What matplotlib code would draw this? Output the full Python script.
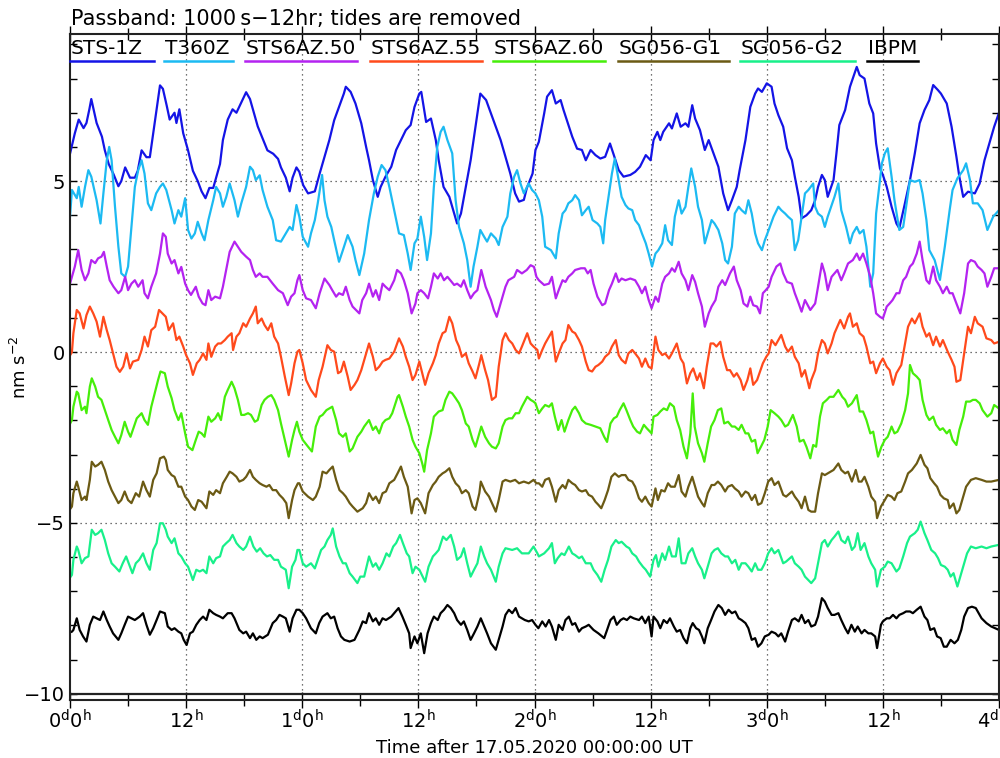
import numpy as np
import matplotlib
matplotlib.use("Agg")
import matplotlib.pyplot as plt
from matplotlib.lines import Line2D
from matplotlib.ticker import MultipleLocator

# Hours after 17.05.2020 00:00 UT and values in nm/s^2 (already offset per trace)

t_sts1z = [0.0, 0.5, 0.9, 1.4, 1.7, 2.0, 2.2, 2.75, 3.3, 3.6, 4.0, 4.5, 5.0, 5.3, 5.7, 6.2, 6.7, 7.0, 7.4, 7.9,
           8.25, 8.6, 8.9, 9.3, 9.6, 10.0, 10.3, 10.8, 11.0, 11.3, 11.7, 12.2, 12.7, 13.2, 13.6, 14.0, 14.4, 14.8,
           15.1, 15.5, 15.8, 16.3, 16.8, 17.2, 17.7, 18.2, 18.6, 18.9, 19.4, 19.9, 20.4, 21.0, 21.5, 21.8, 22.3,
           22.7, 23.0, 23.4, 23.7, 24.1, 24.6, 25.3, 25.8, 26.3, 26.8, 27.3, 27.8, 28.3, 28.5, 29.0, 29.5, 30.1,
           30.6, 30.9, 31.3, 31.8, 32.1, 32.6, 33.2, 33.7, 34.2, 34.7, 35.2, 35.6, 36.1, 36.3, 36.6, 36.8, 37.3,
           37.8, 38.1, 38.6, 39.2, 39.5, 40.0, 40.4, 40.9, 41.4, 41.9, 42.4, 43.0, 43.5, 44.0, 44.5, 45.0, 45.5,
           46.0, 46.4, 46.9, 47.2, 47.8, 48.1, 48.45, 49.0, 49.3, 49.8, 50.2, 50.7, 51.0, 51.4, 51.9, 52.4, 52.9,
           53.3, 53.8, 54.3, 54.8, 55.3, 55.8, 56.2, 56.7, 57.2, 57.9, 58.4, 58.9, 59.5, 60.0, 60.3, 60.7, 61.0,
           61.3, 61.9, 62.2, 62.7, 63.1, 63.6, 63.9, 64.3, 64.6, 65.1, 65.6, 66.0, 66.5, 67.0, 67.5, 68.0, 68.4,
           68.9, 69.2, 69.8, 70.3, 70.8, 71.1, 71.5, 72.0, 72.5, 72.8, 73.2, 73.7, 74.1, 74.6, 74.9, 75.3, 75.6,
           76.1, 76.6, 77.0, 77.3, 77.7, 78.0, 78.3, 78.9, 79.2, 79.5, 80.1, 80.6, 81.3, 81.6, 82.1, 82.6, 83.0,
           83.3, 83.7, 84.0, 84.4, 84.9, 85.4, 85.7, 86.2, 86.8, 87.3, 87.8, 88.3, 88.8, 89.2, 89.7, 90.0, 90.6,
           91.1, 91.6, 91.9, 92.3, 92.8, 93.5, 94.0, 94.5, 95.0, 95.5, 96.0]
v_sts1z = [5.8, 6.4, 6.8, 6.55, 6.7, 7.1, 7.4, 6.7, 6.3, 5.9, 5.5, 5.2, 4.85, 5.0, 5.4, 5.1, 5.1, 5.3, 5.9, 5.7,
           5.7, 6.4, 7.0, 7.8, 7.7, 7.2, 6.8, 7.0, 6.7, 7.1, 6.4, 5.9, 5.3, 5.0, 4.7, 4.5, 4.8, 4.8,
           5.1, 5.5, 6.2, 6.8, 7.1, 7.0, 7.3, 7.6, 7.4, 7.1, 6.6, 6.25, 5.9, 5.8, 5.65, 5.4, 5.1,
           4.7, 5.1, 5.4, 5.27, 4.88, 4.64, 4.7, 5.22, 5.71, 6.2, 6.78, 7.17, 7.56, 7.76, 7.61, 7.27, 6.69,
           6.0, 5.61, 5.03, 4.54, 4.83, 5.13, 5.42, 5.91, 6.2, 6.49, 6.64, 7.17, 7.56, 7.61, 7.08, 6.73, 6.83,
           6.2, 5.61, 4.83, 4.54, 4.25, 3.76, 4.05, 4.83, 5.61, 6.59, 7.56, 7.37, 6.98, 6.59, 6.2, 5.71, 5.22,
           4.64, 4.4, 4.45, 4.79, 5.22, 5.91, 6.15, 6.98, 7.47, 7.66, 7.27, 7.37, 7.08, 6.73, 6.3, 5.95, 5.91,
           5.61, 5.91, 5.76, 5.66, 5.71, 6.1, 5.76, 5.32, 5.13, 5.18, 5.27, 5.42, 5.76, 5.61, 6.2, 6.44, 6.2,
           6.44, 6.69, 6.54, 6.98, 6.59, 6.69, 6.59, 7.22, 6.83, 6.49, 5.91, 6.2, 5.81, 5.42, 4.64, 4.15, 4.44,
           4.83, 5.32, 6.2, 7.17, 7.56, 7.71, 7.61, 7.86, 7.76, 7.27, 6.93, 6.59, 5.96, 5.61, 5.13, 4.54, 3.91,
           4.0, 4.15, 4.44, 4.83, 5.18, 5.03, 4.54, 5.03, 5.81, 6.64, 7.08, 7.76, 8.34, 8.1, 8.0, 7.27, 6.98,
           6.1, 5.37, 5.18, 4.83, 4.25, 3.76, 3.62, 4.25, 5.03, 5.81, 6.69, 7.08, 7.37, 7.81, 7.66, 7.56, 7.27,
           6.59, 5.71, 5.13, 4.54, 4.69, 4.64, 4.93, 5.61, 6.1, 6.59, 7.0]

t_t360z = [0.0, 0.2, 0.7, 0.9, 1.2, 1.55, 1.9, 2.2, 2.75, 3.15, 3.45, 3.8, 4.05, 4.3, 4.65, 5.0, 5.3, 5.7, 6.0,
           6.35, 6.7, 7.05, 7.4, 7.7, 8.05, 8.4, 8.9, 9.3, 9.6, 9.95, 10.5, 10.8, 11.2, 11.5, 11.9, 12.2, 12.55,
           12.9, 13.2, 13.6, 13.9, 14.3, 14.8, 15.1, 15.5, 15.8, 16.15, 16.5, 17.0, 17.35, 17.7, 18.2, 18.6,
           18.9, 19.2, 19.6, 19.9, 20.4, 20.95, 21.3, 21.8, 22.3, 22.7, 23.0, 23.4, 23.7, 24.05, 24.6, 24.9,
           25.3, 25.6, 26.05, 26.3, 26.6, 27.0, 27.3, 27.8, 28.2, 28.7, 29.2, 29.5, 29.9, 30.4, 30.9, 31.4,
           31.8, 32.2, 32.6, 33.0, 33.5, 34.0, 34.5, 34.9, 35.2, 35.6, 35.9, 36.25, 36.6, 36.9, 37.3, 37.6,
           37.95, 38.3, 38.6, 39.0, 39.5, 39.85, 40.2, 40.7, 41.05, 41.4, 41.7, 42.1, 42.4, 42.8, 43.1, 43.5,
           44.0, 44.3, 44.7, 45.2, 45.5, 45.9, 46.2, 46.55, 46.9, 47.4, 47.75, 48.1, 48.45, 48.8, 49.1, 49.7,
           50.2, 50.5, 50.9, 51.2, 51.5, 51.9, 52.2, 52.6, 52.9, 53.3, 53.6, 54.0, 54.5, 54.8, 55.1, 55.3,
           55.7, 56.0, 56.3, 56.7, 57.0, 57.4, 57.7, 58.1, 58.4, 58.8, 59.1, 59.5, 59.8, 60.15, 60.5, 60.8,
           61.2, 61.5, 61.8, 62.2, 62.5, 62.9, 63.2, 63.6, 63.9, 64.2, 64.6, 64.9, 65.3, 65.6, 66.0, 66.3,
           66.6, 67.0, 67.4, 67.7, 68.0, 68.4, 68.7, 69.1, 69.4, 69.8, 70.1, 70.45, 70.8, 71.1, 71.5, 71.8,
           72.2, 72.7, 73.2, 73.5, 73.9, 74.2, 74.6, 74.9, 75.25, 75.6, 75.95, 76.3, 76.8, 77.0, 77.3, 77.7,
           78.0, 78.3, 79.0, 79.4, 79.7, 80.2, 80.6, 80.9, 81.3, 81.6, 82.0, 82.3, 82.7, 83.0, 83.3, 83.9,
           84.2, 84.5, 84.9, 85.2, 85.7, 86.1, 86.4, 86.8, 87.3, 87.8, 88.1, 88.5, 88.8, 89.35, 89.9, 90.4,
           90.9, 91.2, 91.7, 92.3, 92.6, 93.0, 93.3, 93.8, 94.3, 94.8, 95.4, 96.0]
v_t360z = [3.96, 4.74, 4.5, 4.83, 4.25, 4.83, 5.32, 5.13, 4.44, 3.76, 4.64, 5.61, 6.0, 5.61, 4.25, 3.08, 2.3, 2.2, 2.5,
           3.66, 4.83, 5.32, 5.61, 5.22, 4.35, 4.15, 4.64, 4.83, 4.93, 4.74, 4.15, 3.76, 4.15, 3.96, 4.5, 3.57, 3.32,
           3.47, 3.81, 3.47, 3.27, 3.86, 4.44, 4.83, 4.64, 4.25, 4.54, 4.93, 4.44, 3.96, 4.35, 4.83, 5.42,
           5.32, 5.03, 5.17, 4.74, 4.25, 3.86, 3.27, 3.23, 3.47, 3.66, 3.57, 4.3, 3.96, 3.37, 3.08, 3.47,
           3.86, 4.35, 5.18, 4.44, 3.96, 3.66, 3.27, 2.64, 2.98, 3.42, 3.08, 2.69, 2.25, 2.88, 3.86, 4.64,
           5.13, 5.47, 5.32, 4.83, 4.15, 3.47, 3.42, 2.88, 2.4, 3.18, 3.32, 3.96, 3.37, 2.69, 3.47, 4.83,
           6.0, 6.44, 6.59, 6.2, 5.81, 4.44, 3.66, 3.18, 2.69, 1.91, 2.5, 3.08, 3.57, 3.37, 3.23, 3.47,
           3.32, 3.13, 3.66, 3.96, 4.64, 5.13, 5.32, 4.93, 4.64, 4.93, 4.74, 4.64, 4.44, 3.96, 3.08, 2.98,
           2.74, 3.47, 4.05, 4.15, 4.35, 4.44, 4.59, 4.44, 4.0, 4.15, 4.25, 3.86, 3.76, 3.66, 3.18, 3.86,
           4.64, 5.22, 5.66, 5.03, 4.54, 4.3, 4.2, 4.15, 3.86, 3.71, 3.47, 3.18, 2.88, 2.5, 2.88, 2.98,
           3.18, 3.71, 3.27, 3.13, 3.96, 4.44, 4.05, 4.25, 4.83, 5.37, 4.83, 4.25, 3.86, 3.18, 3.57, 3.86,
           3.76, 3.57, 3.18, 2.69, 2.59, 3.08, 4.05, 4.25, 4.15, 4.05, 4.44, 4.05, 3.47, 3.18, 2.98, 3.27,
           3.57, 3.96, 4.25, 4.15, 4.05, 3.96, 3.86, 2.98, 3.27, 3.96, 4.64, 4.74, 4.93, 4.25, 4.05, 3.96,
           3.66, 3.96, 4.54, 4.93, 4.15, 3.66, 3.18, 3.47, 3.66, 3.47, 3.57, 3.08, 1.91, 2.3, 4.05, 5.52,
           5.81, 5.96, 5.13, 4.44, 3.57, 3.66, 4.25, 5.03, 4.98, 5.03, 4.64, 3.86, 2.98, 2.69, 2.11, 3.08,
           4.15, 4.74, 5.08, 5.32, 5.52, 5.03, 4.35, 4.35, 4.15, 3.57, 3.96, 4.15]

t_sts50 = [0.0, 0.5, 0.85, 1.2, 1.55, 1.9, 2.2, 2.6, 2.9, 3.25, 3.5, 3.8, 4.1, 4.5, 5.0, 5.3, 5.7, 6.0, 6.35, 6.7,
           7.05, 7.5, 7.7, 8.05, 8.4, 8.9, 9.3, 9.6, 9.9, 10.1, 10.5, 10.8, 11.2, 11.5, 11.9, 12.2, 12.5, 13.0,
           13.3, 13.7, 14.0, 14.3, 14.6, 15.0, 15.5, 15.8, 16.2, 16.5, 17.0, 17.35, 17.7, 18.2, 18.6, 18.9,
           19.2, 19.6, 19.9, 20.4, 20.95, 21.5, 22.0, 22.5, 22.85, 23.2, 23.5, 23.7, 24.05, 24.4, 24.9, 25.4,
           25.8, 26.3, 26.8, 27.1, 27.5, 27.8, 28.2, 28.5, 28.9, 29.2, 29.55, 29.9, 30.2, 30.6, 30.9, 31.3,
           31.6, 31.95, 32.3, 32.6, 33.0, 33.5, 33.8, 34.2, 34.5, 34.9, 35.3, 35.7, 35.9, 36.25, 36.6, 37.0,
           37.3, 37.6, 38.0, 38.3, 38.65, 39.0, 39.3, 39.7, 40.0, 40.4, 40.7, 41.05, 41.4, 41.75, 42.1, 42.5,
           42.95, 43.5, 43.8, 44.1, 44.3, 44.7, 45.0, 45.3, 45.9, 46.2, 46.7, 47.2, 47.6, 47.95, 48.2, 48.45,
           49.0, 49.5, 49.8, 50.2, 50.5, 50.9, 51.2, 51.5, 51.9, 52.2, 52.8, 53.2, 53.5, 53.8, 54.1, 54.5,
           55.0, 55.3, 55.7, 56.0, 56.4, 56.7, 57.0, 57.4, 57.9, 58.4, 58.8, 59.1, 59.45, 59.8, 60.1, 60.5,
           60.8, 61.2, 61.5, 61.9, 62.2, 62.5, 62.9, 63.2, 63.6, 63.9, 64.3, 64.6, 64.9, 65.3, 65.6, 66.0,
           66.3, 66.7, 67.0, 67.4, 67.7, 68.2, 68.6, 68.9, 69.3, 69.6, 70.0, 70.3, 70.6, 71.0, 71.3, 71.6,
           71.9, 72.2, 72.5, 73.0, 73.4, 73.7, 74.1, 74.6, 74.9, 75.3, 75.6, 75.95, 76.5, 77.0, 77.3, 77.7,
           78.0, 78.3, 78.7, 79.0, 79.3, 79.7, 80.0, 80.4, 80.9, 81.3, 81.6, 81.95, 82.3, 82.7, 83.0, 83.3,
           83.7, 84.0, 84.4, 84.7, 85.0, 85.4, 85.7, 86.1, 86.4, 86.8, 87.1, 87.5, 87.8, 88.1, 88.5, 88.8,
           89.2, 89.5, 89.9, 90.2, 90.6, 90.9, 91.2, 91.6, 92.0, 92.4, 92.8, 93.1, 93.5, 93.8, 94.2, 94.5,
           94.8, 95.2, 95.5, 96.0]
v_sts50 = [2.0, 2.5, 2.98, 2.4, 2.1, 2.3, 2.69, 2.6, 2.74, 2.79, 2.93, 2.5, 2.1, 1.91, 1.72, 1.81, 2.2, 1.81, 2.0, 2.1,
           1.91, 2.1, 1.72, 1.57, 1.91, 2.3, 2.88, 3.47, 3.37, 2.88, 2.59, 2.69, 2.3, 2.49, 2.0, 1.81, 1.67, 1.91,
           1.62, 1.42, 1.37, 1.81, 1.52, 1.62, 1.57, 1.91, 2.5, 2.93, 3.23, 3.08, 2.93, 2.79, 2.69, 2.4,
           2.2, 2.3, 2.2, 2.2, 2.0, 1.81, 1.72, 1.37, 1.62, 1.72, 2.1, 2.25, 1.81, 1.57, 1.52, 1.28,
           1.72, 2.15, 1.96, 1.81, 1.62, 1.72, 1.67, 1.91, 1.52, 1.33, 1.23, 1.13, 1.52, 1.72, 2.0, 1.62,
           1.81, 1.52, 2.0, 1.91, 1.81, 2.1, 2.4, 2.3, 2.1, 1.72, 1.13, 1.42, 1.72, 1.81, 1.72, 1.57,
           1.91, 2.3, 2.15, 2.3, 2.1, 2.2, 2.1, 1.96, 2.0, 1.91, 2.1, 1.81, 1.57, 1.72, 1.81, 2.4,
           1.91, 1.52, 1.23, 1.03, 1.23, 1.62, 1.91, 2.1, 2.2, 2.4, 2.3, 2.4, 2.54, 2.49, 2.2, 2.1,
           1.96, 2.0, 2.2, 1.57, 1.81, 2.1, 2.05, 2.2, 2.3, 2.4, 2.45, 2.45, 2.3, 2.4, 2.0, 1.62,
           1.37, 1.42, 1.81, 2.0, 2.3, 2.05, 2.15, 2.1, 2.15, 2.1, 1.91, 1.72, 1.91, 1.52, 1.28, 1.62,
           1.47, 2.0, 2.2, 2.3, 2.45, 2.35, 2.64, 2.3, 2.1, 1.81, 2.25, 2.05, 1.72, 1.33, 0.74, 1.13,
           1.33, 1.52, 1.91, 2.1, 1.96, 2.3, 2.5, 2.1, 1.81, 1.42, 1.33, 1.62, 1.37, 1.33, 1.13, 1.72,
           1.81, 1.91, 2.2, 2.5, 2.59, 2.3, 2.05, 2.0, 1.72, 1.42, 1.18, 1.52, 1.23, 1.42, 1.91, 2.59,
           2.3, 1.81, 2.2, 2.3, 2.4, 2.1, 2.3, 2.59, 2.69, 2.88, 2.69, 2.88, 2.59, 2.2, 1.72, 1.13,
           1.03, 0.98, 1.33, 1.42, 1.52, 1.72, 1.72, 2.1, 2.2, 2.5, 2.59, 2.88, 3.23, 2.69, 2.1, 2.0,
           2.5, 2.1, 1.91, 1.72, 1.91, 1.72, 1.72, 1.42, 1.13, 1.72, 2.59, 2.69, 2.64, 2.5, 2.4, 2.3,
           1.91, 2.2, 2.45, 2.45]

t_sts55 = [0.0, 0.2, 0.35, 0.7, 1.0, 1.4, 1.7, 2.05, 2.4, 2.75, 3.1, 3.45, 3.8, 4.1, 4.45, 4.8, 5.15, 5.5, 5.85,
           6.2, 6.5, 7.05, 7.4, 7.7, 8.05, 8.4, 8.8, 9.2, 9.55, 9.9, 10.2, 10.65, 11.0, 11.3, 11.7, 12.0, 12.4,
           12.7, 13.1, 13.4, 13.75, 14.1, 14.3, 14.6, 15.0, 15.3, 15.6, 16.0, 16.3, 16.7, 16.85, 17.2, 17.5,
           17.9, 18.2, 18.6, 18.9, 19.2, 19.4, 19.8, 20.1, 20.45, 20.8, 21.1, 21.5, 21.8, 22.2, 22.6, 22.85,
           23.2, 23.5, 23.7, 24.05, 24.4, 24.9, 25.4, 25.7, 26.1, 26.6, 26.95, 27.3, 27.7, 28.0, 28.3, 28.7,
           29.0, 29.4, 29.7, 30.1, 30.6, 30.9, 31.3, 31.6, 31.95, 32.3, 32.6, 33.0, 33.5, 34.0, 34.4, 34.7,
           35.05, 35.4, 35.7, 36.1, 36.4, 36.7, 37.05, 37.5, 37.8, 38.1, 38.5, 38.8, 39.2, 39.5, 39.9, 40.2,
           40.5, 40.9, 41.2, 41.6, 41.9, 42.3, 42.5, 42.9, 43.2, 43.6, 44.0, 44.3, 44.7, 45.0, 45.35, 45.7,
           46.05, 46.4, 46.7, 47.25, 47.6, 47.9, 48.3, 48.45, 48.8, 49.1, 49.5, 49.8, 50.0, 50.2, 50.5, 50.9,
           51.2, 51.5, 51.9, 52.2, 52.6, 52.9, 53.3, 53.6, 53.95, 54.3, 54.6, 55.0, 55.3, 55.7, 56.0, 56.4,
           56.7, 57.0, 57.4, 57.7, 58.1, 58.4, 58.8, 59.1, 59.45, 59.8, 60.1, 60.5, 60.8, 61.2, 61.5, 61.9,
           62.2, 62.7, 63.1, 63.4, 63.75, 64.1, 64.4, 64.8, 65.1, 65.5, 65.8, 66.2, 66.5, 66.8, 67.2, 67.5,
           67.9, 68.2, 68.6, 68.9, 69.3, 69.6, 70.0, 70.3, 70.6, 71.0, 71.3, 71.6, 71.95, 72.2, 72.5, 72.9,
           73.2, 73.5, 73.9, 74.2, 74.6, 74.9, 75.3, 75.6, 75.95, 76.4, 76.6, 77.0, 77.3, 77.7, 78.0, 78.3,
           78.7, 79.0, 79.6, 80.0, 80.4, 80.6, 80.9, 81.3, 81.6, 82.0, 82.3, 82.7, 83.0, 83.3, 83.7, 84.0,
           84.4, 84.7, 85.05, 85.4, 85.9, 86.3, 86.6, 87.0, 87.3, 87.8, 88.1, 88.5, 88.8, 89.2, 89.5, 89.9,
           90.2, 90.7, 91.1, 91.4, 91.6, 92.0, 92.4, 92.8, 93.1, 93.5, 93.8, 94.3, 94.7, 95.2, 95.5, 96.0]
v_sts55 = [-0.1, 0.0, 0.55, 1.23, 1.13, 0.69, 1.08, 1.33, 1.13, 0.89, 0.45, 1.03, 0.64, 0.35, -0.04, -0.43, -0.58, -0.43, -0.04,
           -0.48, -0.28, -0.23, 0.06, 0.45, 0.16, 0.64, 0.74, 1.23, 1.13, 1.03, 0.64, 0.84, 0.35, 0.45, 0.16, -0.09, -0.33,
           -0.67, -0.33, -0.23, -0.04, -0.23, 0.25, -0.14, 0.16, 0.25, 0.25, 0.35, 0.45, 0.55, 0.06, 0.45, 0.55,
           0.84, 0.74, 0.98, 1.13, 1.33, 0.84, 0.98, 0.79, 0.64, 0.84, 0.45, 0.25, -0.14, -0.72, -1.26, -0.92,
           -0.33, 0.01, 0.06, -0.33, -0.82, -1.11, -1.31, -0.82, -0.43, 0.2, 0.06, 0.01, -0.62, -0.57, -0.28, -0.72,
           -1.11, -0.96, -0.82, -0.53, -0.04, 0.25, -0.14, -0.53, -0.43, -0.28, -0.23, -0.19, 0.01, 0.4, 0.16, -0.14,
           -0.43, -0.82, -0.67, -0.28, -0.62, -0.96, -0.62, -0.33, -0.09, 0.25, 0.55, 0.6, 1.03, 0.84, 0.35, 0.16,
           -0.14, -0.04, -0.33, -0.57, -0.77, -0.33, -0.09, -0.53, -0.82, -1.4, -1.31, -0.43, 0.35, 0.55, 0.35, 0.25,
           0.06, -0.04, 0.16, 0.55, 0.25, 0.16, 0.06, -0.19, 0.06, 0.25, 0.45, 0.6, 0.16, -0.28, -0.04, 0.25,
           0.35, 0.79, 0.6, 0.55, 0.35, 0.16, -0.28, -0.53, -0.57, -0.43, -0.38, -0.28, -0.14, -0.04, 0.16, 0.35,
           -0.09, -0.23, -0.33, -0.04, 0.06, -0.04, -0.19, -0.43, -0.19, -0.43, -0.48, 0.45, 0.06, -0.09, -0.04, -0.19,
           -0.04, 0.25, -0.19, -0.33, -0.92, -0.62, -0.48, -0.82, -0.62, -1.06, -0.43, 0.25, 0.25, 0.16, 0.3, -0.14,
           -0.53, -0.53, -0.72, -0.62, -0.82, -1.11, -0.82, -0.48, -0.96, -0.82, -0.57, -0.33, -0.14, -0.04, 0.35, 0.2,
           0.35, 0.5, 0.16, 0.01, 0.16, -0.14, -0.33, -0.72, -0.53, -1.06, -0.82, -0.53, -0.04, 0.35, 0.25, -0.04,
           0.25, 0.55, 0.94, 0.69, 1.03, 1.13, 0.74, 0.84, 0.55, 0.45, 0.16, -0.33, -0.28, -0.62, -0.33, -0.19,
           -0.43, -0.53, -0.96, -0.62, -0.38, 0.25, 0.74, 0.98, 0.84, 1.13, 0.74, 0.45, 0.55, 0.2, 0.45, 0.16,
           0.35, 0.01, -0.23, -0.43, -0.87, -0.82, -0.04, 0.74, 0.55, 1.03, 0.84, 0.74, 0.4, 0.35, 0.25, 0.3]

t_sts60 = [0.0, 0.2, 0.35, 0.7, 0.85, 1.2, 1.55, 1.7, 2.05, 2.25, 2.6, 2.9, 3.25, 3.6, 3.95, 4.3, 4.65, 5.0, 5.3,
           5.65, 6.0, 6.25, 6.6, 6.9, 7.4, 7.7, 8.05, 8.4, 8.75, 9.1, 9.35, 9.8, 10.1, 10.5, 10.8, 11.2, 11.5,
           11.9, 12.2, 12.65, 13.0, 13.3, 13.6, 13.9, 14.3, 14.6, 15.0, 15.3, 15.6, 16.0, 16.3, 16.7, 17.0,
           17.35, 17.7, 18.0, 18.4, 18.7, 19.1, 19.4, 19.8, 20.1, 20.45, 20.8, 21.1, 21.5, 21.8, 22.2, 22.6,
           22.95, 23.2, 23.45, 23.7, 24.05, 24.6, 25.0, 25.4, 25.8, 26.1, 26.5, 26.8, 27.1, 27.5, 27.8, 28.2,
           28.5, 28.9, 29.2, 29.7, 30.1, 30.4, 30.9, 31.3, 31.6, 31.95, 32.3, 32.6, 33.0, 33.3, 33.85, 34.0,
           34.4, 34.7, 35.05, 35.4, 35.7, 36.1, 36.4, 36.6, 36.9, 37.3, 37.6, 38.1, 38.5, 38.8, 39.2, 39.5,
           39.85, 40.2, 40.5, 40.9, 41.2, 41.6, 41.9, 42.3, 42.5, 42.9, 43.3, 43.6, 44.0, 44.3, 44.7, 45.0,
           45.35, 45.7, 46.05, 46.4, 46.7, 47.25, 47.6, 47.9, 48.1, 48.45, 48.8, 49.1, 49.5, 49.8, 50.1, 50.45,
           50.8, 51.1, 51.5, 51.9, 52.2, 52.6, 52.9, 53.3, 53.8, 54.3, 54.8, 55.2, 55.5, 55.85, 56.2, 56.5,
           56.8, 57.2, 57.5, 57.9, 58.2, 58.6, 58.9, 59.3, 59.6, 60.1, 60.3, 60.7, 61.0, 61.35, 61.7, 62.0,
           62.4, 62.7, 63.05, 63.4, 63.75, 64.1, 64.35, 64.55, 64.9, 65.3, 65.55, 65.9, 66.25, 66.6, 66.95, 67.3,
           67.6, 68.0, 68.4, 68.7, 69.1, 69.4, 69.8, 70.1, 70.45, 70.8, 71.05, 71.4, 71.75, 72.1, 72.4, 72.8,
           73.2, 73.5, 73.9, 74.2, 74.7, 75.1, 75.4, 75.8, 76.1, 76.5, 76.8, 77.1, 77.5, 77.8, 78.2, 78.5,
           78.9, 79.4, 79.8, 80.1, 80.4, 80.8, 81.3, 81.6, 81.95, 82.3, 82.7, 83.0, 83.3, 83.5, 83.85, 84.2,
           84.5, 84.9, 85.2, 85.5, 85.9, 86.3, 86.6, 86.8, 87.1, 87.5, 87.8, 88.1, 88.5, 88.8, 89.2, 89.5,
           89.9, 90.2, 90.6, 90.9, 91.2, 91.6, 91.9, 92.3, 92.6, 93.0, 93.3, 93.6, 94.0, 94.3, 94.8, 95.2,
           95.5, 96.0]
v_sts60 = [-2.1, -1.99, -1.6, -1.16, -1.21, -1.7, -1.6, -1.79, -1.01, -0.77, -1.01, -1.31, -1.4, -1.7, -1.99, -2.28, -2.48, -2.67, -2.43,
           -2.04, -2.33, -2.48, -2.19, -1.94, -1.79, -1.99, -2.13, -1.6, -1.21, -0.82, -0.57, -0.62, -1.01, -1.35, -1.7, -1.99, -1.79,
           -2.38, -2.77, -2.87, -2.57, -2.33, -2.38, -2.48, -1.89, -2.04, -1.94, -1.79, -1.99, -1.31, -1.11, -0.87, -1.06,
           -1.4, -1.84, -1.84, -1.79, -1.84, -2.04, -1.99, -1.55, -1.4, -1.31, -1.26, -1.4, -1.7, -2.09, -2.57, -3.06,
           -2.57, -2.28, -2.04, -2.33, -2.57, -2.77, -2.91, -2.18, -1.89, -1.84, -1.7, -1.65, -1.6, -1.99, -2.38, -2.48,
           -2.38, -2.91, -2.82, -2.48, -2.33, -2.18, -1.99, -2.28, -2.18, -2.38, -2.09, -1.99, -1.94, -1.79, -1.31, -1.26,
           -1.6, -1.89, -2.18, -2.57, -2.77, -2.96, -3.26, -3.5, -2.87, -2.38, -1.89, -1.74, -1.7, -1.4, -1.16, -1.21,
           -1.35, -1.5, -1.7, -2.09, -2.18, -2.57, -2.77, -2.38, -2.18, -2.48, -2.67, -2.77, -2.82, -2.67, -2.18, -1.99,
           -1.94, -1.94, -1.79, -1.79, -1.6, -1.31, -1.4, -1.45, -1.5, -1.79, -1.65, -1.55, -1.6, -1.5, -1.89, -2.28,
           -1.99, -2.33, -1.99, -1.7, -1.6, -1.79, -1.99, -2.09, -2.13, -2.18, -2.23, -2.48, -2.63, -2.09, -1.94, -1.89,
           -1.7, -1.5, -1.7, -1.99, -2.18, -2.33, -2.38, -2.13, -2.23, -2.38, -1.89, -1.84, -1.74, -1.65, -1.7, -1.5,
           -1.6, -1.99, -2.28, -2.77, -3.11, -2.38, -1.21, -2.18, -2.67, -2.96, -3.21, -2.67, -2.18, -1.99, -1.7, -1.65,
           -2.09, -2.04, -2.18, -2.18, -2.28, -2.13, -2.38, -2.38, -2.62, -2.57, -2.96, -2.77, -2.57, -2.18, -1.7, -1.79,
           -1.89, -1.99, -2.18, -2.13, -1.84, -2.18, -2.62, -2.57, -2.77, -3.11, -2.72, -2.77, -1.89, -1.5, -1.4, -1.31,
           -1.31, -1.11, -1.31, -1.4, -1.6, -1.5, -1.26, -1.74, -1.74, -1.99, -2.38, -2.33, -2.77, -3.06, -2.77, -2.57,
           -2.48, -2.18, -2.38, -2.33, -2.09, -1.7, -1.21, -0.38, -0.62, -0.72, -0.82, -1.4, -1.84, -1.99, -1.89, -2.13,
           -2.28, -2.23, -2.38, -2.28, -2.57, -2.72, -2.28, -1.89, -1.45, -1.45, -1.4, -1.4, -1.5, -1.7, -1.89, -1.79,
           -1.55, -1.65]

t_sg1 = [0.0, 0.2, 0.35, 0.7, 0.85, 1.2, 1.55, 1.7, 2.05, 2.25, 2.6, 2.9, 3.25, 3.6, 3.95, 4.3, 4.65, 5.0, 5.3,
         5.65, 6.0, 6.35, 6.8, 7.15, 7.55, 7.9, 8.25, 8.6, 8.95, 9.3, 9.7, 9.9, 10.1, 10.5, 10.8, 11.2, 11.5,
         11.9, 12.2, 12.55, 12.9, 13.25, 13.6, 14.1, 14.4, 14.8, 15.1, 15.5, 15.8, 16.2, 16.5, 16.8, 17.2,
         17.5, 17.9, 18.2, 18.6, 18.9, 19.2, 19.6, 19.9, 20.3, 20.6, 20.95, 21.3, 21.65, 22.0, 22.35, 22.6,
         22.95, 23.2, 23.55, 23.7, 24.05, 24.6, 25.1, 25.4, 25.8, 26.1, 26.5, 26.8, 27.15, 27.5, 27.85, 28.2,
         28.5, 28.9, 29.2, 29.7, 30.25, 30.6, 30.9, 31.3, 31.6, 31.95, 32.3, 32.65, 33.0, 33.5, 33.85, 34.2,
         34.5, 34.9, 35.3, 35.6, 35.9, 36.25, 36.7, 37.05, 37.5, 37.8, 38.1, 38.5, 38.8, 39.2, 39.5, 39.85,
         40.2, 40.5, 40.9, 41.2, 41.6, 41.9, 42.3, 42.45, 42.9, 43.3, 43.6, 44.0, 44.3, 44.7, 45.0, 45.5,
         46.0, 46.4, 46.9, 47.4, 47.9, 48.2, 48.45, 48.8, 49.1, 49.5, 49.8, 50.2, 50.5, 50.9, 51.2, 51.5,
         51.9, 52.2, 52.6, 52.9, 53.3, 53.6, 53.95, 54.3, 54.6, 54.9, 55.25, 55.6, 55.95, 56.3, 56.7, 57.0,
         57.4, 57.7, 58.1, 58.4, 58.8, 59.1, 59.45, 59.8, 60.1, 60.5, 60.75, 61.1, 61.45, 61.8, 62.1, 62.5,
         62.9, 63.2, 63.6, 63.9, 64.3, 64.6, 64.9, 65.3, 65.55, 65.9, 66.3, 66.6, 66.95, 67.3, 67.7, 68.0,
         68.4, 68.7, 69.1, 69.4, 69.8, 70.1, 70.45, 70.8, 71.1, 71.45, 71.8, 72.15, 72.5, 72.8, 73.2, 73.7,
         74.0, 74.6, 74.9, 75.3, 75.6, 75.95, 76.3, 76.6, 77.0, 77.3, 77.7, 78.0, 78.3, 78.9, 79.4, 79.7,
         80.1, 80.4, 80.8, 81.2, 81.5, 81.8, 82.1, 82.5, 82.8, 83.2, 83.4, 83.8, 84.2, 84.5, 84.9, 85.2,
         85.5, 85.9, 86.3, 86.6, 87.0, 87.5, 87.9, 88.3, 88.6, 88.9, 89.3, 89.6, 89.95, 90.3, 90.7, 90.9,
         91.3, 91.6, 91.9, 92.2, 92.6, 93.1, 93.6, 94.2, 94.7, 95.2, 96.0]
v_sg1 = [-4.6, -4.52, -4.13, -3.79, -3.94, -4.33, -4.23, -4.33, -3.74, -3.21, -3.35, -3.3, -3.21, -3.45, -3.79, -4.04, -4.23, -4.42, -4.33,
         -4.08, -4.33, -4.42, -4.13, -4.23, -3.79, -4.04, -4.23, -3.74, -3.55, -3.11, -3.06, -3.16, -3.45, -3.6, -3.65, -3.94, -3.94,
         -4.23, -4.33, -4.52, -4.62, -4.33, -4.38, -4.57, -4.08, -4.18, -4.04, -4.13, -3.84, -3.65, -3.5, -3.55, -3.65,
         -3.79, -3.74, -3.65, -3.45, -3.65, -3.74, -3.84, -3.89, -3.94, -3.89, -4.04, -4.04, -4.18, -4.28, -4.42, -4.86,
         -4.33, -4.04, -3.84, -3.84, -4.08, -4.23, -4.33, -4.23, -3.94, -3.5, -3.55, -3.45, -3.35, -3.74, -4.04, -4.13,
         -4.23, -4.42, -4.52, -4.67, -4.57, -4.42, -4.13, -4.33, -4.23, -4.42, -4.13, -4.08, -3.84, -3.74, -3.55, -3.35,
         -3.65, -3.94, -4.72, -4.33, -4.28, -4.42, -4.72, -4.13, -3.89, -3.79, -3.65, -3.55, -3.5, -3.4, -3.65, -3.84,
         -3.94, -4.13, -4.04, -4.13, -4.52, -4.62, -4.13, -3.79, -4.08, -4.23, -4.42, -4.67, -4.33, -3.79, -3.74, -3.79,
         -3.74, -3.84, -3.79, -3.84, -3.74, -3.84, -3.84, -3.94, -3.74, -3.69, -3.94, -4.38, -4.04, -3.89, -3.99, -3.74,
         -3.84, -3.89, -4.04, -4.08, -4.04, -4.18, -4.23, -4.38, -4.47, -4.57, -4.33, -4.04, -3.65, -3.55, -3.65, -3.6,
         -3.6, -3.74, -3.79, -3.94, -4.28, -4.38, -4.23, -4.42, -4.52, -3.99, -4.33, -4.04, -4.08, -3.84, -3.94, -3.94,
         -3.6, -4.08, -4.23, -3.94, -3.65, -3.94, -4.23, -4.42, -4.52, -4.13, -3.89, -3.89, -3.79, -3.89, -4.08, -3.94,
         -3.89, -3.99, -4.08, -4.23, -4.08, -4.13, -4.33, -4.18, -4.47, -4.42, -4.13, -3.79, -3.69, -3.89, -3.79, -4.18,
         -4.23, -4.08, -4.23, -4.38, -4.57, -4.23, -4.62, -4.67, -4.67, -4.13, -3.55, -3.6, -3.55, -3.45, -3.26, -3.45,
         -3.55, -3.5, -3.79, -3.45, -3.79, -3.79, -3.65, -3.94, -4.23, -4.38, -4.86, -4.52, -4.33, -4.18, -4.23, -4.33,
         -4.13, -4.08, -3.79, -3.55, -3.45, -3.26, -3.01, -3.3, -3.4, -3.69, -3.84, -3.94, -4.18, -4.28, -4.33, -4.57,
         -4.43, -4.72, -4.62, -4.33, -3.94, -3.74, -3.69, -3.74, -3.79, -3.79, -3.74]

t_sg2 = [0.0, 0.2, 0.35, 0.7, 0.85, 1.2, 1.55, 1.9, 2.25, 2.6, 2.9, 3.25, 3.6, 3.95, 4.3, 4.65, 5.1, 5.45, 5.8,
         6.2, 6.45, 6.8, 7.15, 7.55, 7.9, 8.25, 8.6, 8.95, 9.3, 9.6, 9.9, 10.1, 10.5, 10.8, 11.2, 11.5, 11.9,
         12.2, 12.7, 13.05, 13.4, 13.75, 14.1, 14.4, 14.8, 15.1, 15.5, 15.8, 16.15, 16.5, 16.8, 17.2, 17.5,
         17.9, 18.2, 18.6, 18.95, 19.3, 19.65, 20.0, 20.35, 20.7, 21.1, 21.5, 21.8, 22.3, 22.6, 22.95, 23.3,
         23.5, 23.7, 24.05, 24.4, 24.9, 25.3, 25.6, 25.95, 26.3, 26.6, 26.95, 27.15, 27.5, 27.85, 28.2, 28.5,
         28.9, 29.2, 29.7, 30.0, 30.4, 30.9, 31.3, 31.6, 31.95, 32.3, 32.7, 33.0, 33.4, 33.7, 34.1, 34.4,
         34.8, 35.05, 35.4, 35.7, 36.1, 36.7, 37.05, 37.5, 37.8, 38.1, 38.55, 38.9, 39.35, 39.7, 40.0, 40.4,
         40.7, 41.05, 41.4, 41.75, 42.1, 42.45, 42.8, 43.1, 43.5, 44.0, 44.3, 44.7, 45.0, 45.7, 46.2, 46.7,
         47.4, 47.9, 48.3, 48.45, 49.0, 49.5, 49.8, 50.1, 50.4, 50.8, 51.1, 51.55, 51.9, 52.2, 52.6, 52.9,
         53.3, 53.8, 54.1, 54.5, 54.9, 55.25, 55.6, 55.95, 56.4, 56.7, 57.0, 57.5, 57.8, 58.1, 58.5, 58.8,
         59.2, 59.5, 59.95, 60.3, 60.55, 60.8, 61.2, 61.5, 61.9, 62.2, 62.6, 62.9, 63.2, 63.6, 63.9, 64.3,
         64.6, 64.9, 65.3, 65.55, 65.9, 66.3, 66.6, 66.95, 67.3, 67.7, 68.0, 68.4, 68.75, 69.1, 69.4, 69.8,
         70.1, 70.45, 70.8, 71.1, 71.45, 71.8, 72.15, 72.5, 72.8, 73.2, 73.7, 74.0, 74.6, 74.9, 75.3, 75.6,
         75.95, 76.3, 76.6, 77.0, 77.3, 77.7, 78.0, 78.3, 78.7, 79.0, 79.4, 79.7, 80.1, 80.4, 80.8, 81.1,
         81.4, 81.7, 82.1, 82.5, 82.8, 83.2, 83.4, 83.8, 84.2, 84.5, 84.9, 85.4, 85.7, 86.1, 86.5, 86.8,
         87.3, 87.6, 87.9, 88.3, 88.6, 89.0, 89.4, 89.7, 90.0, 90.4, 90.7, 91.0, 91.3, 91.7, 92.0, 92.4,
         92.7, 93.1, 93.6, 94.2, 94.7, 95.2, 96.0]
v_sg2 = [-6.6, -6.52, -6.08, -5.69, -5.79, -6.18, -6.03, -5.98, -5.2, -5.35, -5.3, -5.2, -5.5, -5.89, -6.18, -6.28, -6.42, -6.18, -5.98,
         -6.28, -6.47, -6.18, -6.08, -5.89, -6.18, -6.37, -5.79, -5.59, -5.01, -5.01, -5.2, -5.4, -5.59, -5.45, -5.89, -5.98, -6.18,
         -6.28, -6.67, -6.37, -6.42, -6.37, -6.47, -5.98, -6.18, -6.03, -5.98, -5.69, -5.59, -5.5, -5.35, -5.59, -5.69,
         -5.79, -5.69, -5.4, -5.69, -5.84, -5.74, -5.89, -5.98, -5.94, -6.08, -6.08, -6.28, -6.37, -6.91, -6.28, -6.08,
         -5.79, -5.79, -6.18, -6.28, -6.18, -6.33, -6.08, -5.79, -5.69, -5.5, -5.35, -5.16, -5.69, -5.98, -6.18, -6.18,
         -6.47, -6.57, -6.76, -6.57, -6.57, -5.98, -6.28, -6.18, -6.37, -6.18, -5.89, -5.98, -5.69, -5.59, -5.35, -5.59,
         -5.89, -5.98, -6.47, -6.28, -6.37, -6.72, -6.28, -5.98, -5.89, -5.79, -5.4, -5.5, -5.35, -5.69, -6.08, -5.98,
         -5.74, -6.18, -6.57, -6.37, -6.18, -5.69, -5.98, -6.18, -6.37, -6.72, -6.28, -5.89, -5.74, -5.79, -5.74, -5.89,
         -5.89, -5.69, -5.89, -5.98, -5.89, -5.74, -5.59, -6.18, -6.03, -5.89, -5.94, -5.69, -5.89, -5.94, -6.03, -5.98,
         -6.18, -6.18, -6.37, -6.52, -6.72, -6.37, -6.08, -5.69, -5.5, -5.59, -5.55, -5.69, -5.74, -5.89, -5.98, -6.13,
         -6.28, -6.37, -6.57, -6.08, -5.94, -6.28, -5.89, -6.08, -5.69, -5.98, -5.98, -5.45, -6.18, -6.18, -5.89, -5.74,
         -5.98, -6.18, -6.37, -6.62, -6.28, -5.89, -5.79, -5.74, -5.89, -5.98, -5.98, -6.18, -6.08, -6.37, -6.18, -6.18,
         -6.28, -6.42, -6.18, -6.37, -6.37, -6.18, -5.89, -5.74, -5.89, -5.79, -6.18, -6.13, -5.98, -6.18, -6.28, -6.37,
         -6.57, -6.67, -6.76, -6.62, -6.18, -5.59, -5.5, -5.69, -5.5, -5.4, -5.25, -5.5, -5.59, -5.4, -5.79, -5.69,
         -5.3, -5.79, -5.59, -5.98, -6.18, -6.37, -6.86, -6.37, -6.28, -6.13, -6.18, -6.42, -6.33, -5.98, -5.59, -5.4,
         -5.3, -5.2, -4.96, -5.3, -5.5, -5.79, -5.89, -6.03, -6.23, -6.28, -6.37, -6.57, -6.47, -6.86, -6.57, -6.18,
         -5.89, -5.69, -5.74, -5.69, -5.74, -5.69, -5.64]

t_ibpm = [0.0, 0.2, 0.35, 0.7, 1.0, 1.35, 1.7, 2.05, 2.4, 2.75, 3.1, 3.45, 3.8, 4.1, 4.45, 5.0, 5.3, 5.65, 6.0,
          6.35, 6.7, 7.2, 7.55, 7.9, 8.25, 8.6, 8.95, 9.3, 9.8, 10.1, 10.5, 10.8, 11.2, 11.5, 11.75, 12.05, 12.4,
          12.7, 13.05, 13.4, 13.75, 14.1, 14.4, 14.8, 15.1, 15.5, 15.8, 16.3, 16.7, 17.0, 17.5, 17.9, 18.2,
          18.6, 18.9, 19.25, 19.6, 19.9, 20.45, 20.95, 21.3, 21.65, 22.0, 22.3, 22.7, 23.0, 23.4, 23.7, 24.05,
          24.4, 24.9, 25.4, 25.75, 26.1, 26.6, 26.95, 27.3, 27.65, 28.0, 28.35, 28.9, 29.4, 29.9, 30.25, 30.6,
          30.9, 31.3, 31.6, 31.95, 32.3, 32.65, 33.2, 33.5, 33.95, 34.35, 34.7, 35.05, 35.2, 35.6, 35.9, 36.25,
          36.6, 36.95, 37.3, 37.6, 38.0, 38.3, 38.65, 39.0, 39.35, 39.7, 40.0, 40.4, 40.7, 41.05, 41.4, 41.75,
          42.1, 42.45, 42.8, 43.1, 43.5, 44.0, 44.3, 44.7, 45.0, 45.35, 45.7, 46.05, 46.4, 46.7, 47.0, 47.4,
          47.75, 48.1, 48.4, 48.8, 49.15, 49.5, 49.8, 50.2, 50.5, 50.9, 51.2, 51.55, 51.9, 52.2, 52.6, 52.9,
          53.3, 53.6, 54.1, 54.6, 55.2, 55.5, 55.85, 56.2, 56.5, 56.9, 57.2, 57.55, 57.9, 58.25, 58.8, 59.1,
          59.45, 59.8, 60.1, 60.3, 60.7, 61.0, 61.35, 61.7, 62.0, 62.4, 62.7, 63.05, 63.4, 63.75, 64.1, 64.35,
          64.7, 65.0, 65.3, 65.55, 65.9, 66.25, 66.6, 67.0, 67.35, 67.7, 68.05, 68.4, 68.75, 69.1, 69.4, 69.8,
          70.1, 70.45, 70.8, 71.1, 71.45, 71.8, 72.2, 72.5, 72.9, 73.2, 73.5, 73.9, 74.2, 74.6, 74.9, 75.3,
          75.6, 75.95, 76.3, 76.6, 77.0, 77.3, 77.7, 78.0, 78.3, 78.7, 79.0, 79.4, 79.7, 80.1, 80.4, 80.75,
          81.1, 81.4, 81.8, 82.1, 82.5, 82.8, 83.2, 83.4, 83.8, 84.0, 84.4, 84.7, 85.05, 85.4, 85.7, 86.1,
          86.4, 86.8, 87.1, 87.5, 87.9, 88.3, 88.6, 88.9, 89.3, 89.6, 89.97, 90.3, 90.6, 91.0, 91.4, 91.75,
          92.1, 92.4, 92.8, 93.2, 93.6, 94.2, 94.7, 95.2, 96.0]
v_ibpm = [-8.2, -8.18, -8.13, -7.79, -8.13, -8.32, -8.47, -7.98, -7.74, -7.79, -7.84, -7.59, -7.84, -8.03, -8.23, -8.42, -8.23, -7.98, -7.74,
          -7.79, -7.84, -7.74, -7.64, -7.98, -8.27, -8.08, -7.84, -7.59, -7.64, -8.03, -8.13, -8.08, -8.18, -8.23, -8.42, -8.57, -8.23,
          -8.18, -7.98, -7.84, -7.74, -7.84, -7.54, -7.64, -7.69, -7.74, -7.79, -7.64, -7.64, -7.79, -8.13, -8.23, -8.18,
          -8.37, -8.23, -8.42, -8.32, -8.37, -8.27, -7.93, -7.84, -7.69, -7.74, -7.79, -8.18, -7.79, -7.54, -7.54, -7.64,
          -7.79, -8.08, -8.23, -7.93, -7.74, -7.64, -7.79, -7.74, -8.08, -8.32, -8.42, -8.47, -8.42, -8.13, -7.88, -7.93,
          -7.64, -7.88, -7.79, -7.98, -7.79, -7.84, -7.74, -7.64, -7.49, -7.74, -7.98, -8.23, -8.66, -8.32, -8.52, -8.23,
          -8.81, -8.23, -7.93, -7.74, -7.84, -7.64, -7.54, -7.4, -7.49, -7.64, -7.84, -7.98, -7.88, -8.13, -8.42, -8.23,
          -8.03, -7.79, -8.03, -8.23, -8.52, -8.71, -8.42, -8.03, -7.69, -7.54, -7.64, -7.49, -7.74, -7.79, -7.84, -7.88,
          -7.84, -7.98, -8.08, -7.88, -8.03, -7.84, -8.03, -8.42, -7.98, -8.13, -7.84, -7.74, -7.98, -7.93, -8.18, -8.08,
          -8.03, -7.98, -8.13, -8.23, -8.37, -8.13, -7.84, -7.74, -7.98, -7.84, -7.79, -7.84, -7.74, -7.79, -7.84, -7.74,
          -7.93, -7.74, -8.32, -7.74, -7.88, -8.08, -7.84, -7.93, -7.79, -8.03, -8.18, -8.13, -8.37, -8.52, -8.08, -7.93,
          -8.08, -8.13, -8.32, -8.52, -8.08, -7.84, -7.59, -7.4, -7.49, -7.69, -7.54, -7.64, -7.59, -7.79, -7.84, -7.93,
          -8.08, -8.42, -8.37, -8.62, -8.52, -8.32, -8.27, -8.18, -8.23, -8.32, -8.23, -8.47, -8.18, -7.84, -7.79, -7.88,
          -7.69, -7.93, -7.84, -8.03, -7.98, -7.74, -7.2, -7.3, -7.49, -7.69, -7.69, -7.64, -7.84, -8.08, -8.23, -7.98,
          -8.18, -8.03, -8.23, -8.13, -8.23, -8.23, -8.32, -8.66, -7.98, -7.88, -7.79, -7.79, -7.69, -7.79, -7.69, -7.64,
          -7.59, -7.59, -7.64, -7.54, -7.45, -7.74, -7.84, -8.13, -8.08, -8.32, -8.37, -8.62, -8.62, -8.42, -8.52, -8.42,
          -8.13, -7.74, -7.49, -7.45, -7.49, -7.79, -7.93, -8.03, -8.13]

labels = ["STS-1Z", "T360Z", "STS6AZ.50", "STS6AZ.55", "STS6AZ.60", "SG056-G1", "SG056-G2", "IBPM"]
colors = ["#1414e6", "#1cbaf2", "#b423f0", "#ff4a1c", "#46ee0a", "#6b5a14", "#18f08a", "#000000"]
times = [t_sts1z, t_t360z, t_sts50, t_sts55, t_sts60, t_sg1, t_sg2, t_ibpm]
values = [v_sts1z, v_t360z, v_sts50, v_sts55, v_sts60, v_sg1, v_sg2, v_ibpm]

tick_hours = [0, 12, 24, 36, 48, 60, 72, 84, 96]
tick_labels = [r"$0^{\rm d}0^{\rm h}$", r"$12^{\rm h}$", r"$1^{\rm d}0^{\rm h}$", r"$12^{\rm h}$",
               r"$2^{\rm d}0^{\rm h}$", r"$12^{\rm h}$", r"$3^{\rm d}0^{\rm h}$", r"$12^{\rm h}$",
               r"$4^{\rm d}0^{\rm h}$"]

fig = plt.figure(figsize=(10, 7.58), dpi=100)
ax = fig.add_axes([0.07, 0.0765, 0.929, 0.8785])

for t, v, c in zip(times, values, colors):
    ax.plot(t, v, color=c, lw=1.6)

ax.set_xlim(0, 96)
ax.set_ylim(-10.18, 9.3)

# dotted grid at the labelled ticks, solid line at -10
for h in tick_hours[1:-1]:
    ax.axvline(h, color="#444444", lw=0.9, ls=(0, (1, 3)), zorder=0)
for y in [-5, 0, 5]:
    ax.axhline(y, color="#444444", lw=0.9, ls=(0, (1, 3)), zorder=0)
ax.axhline(-10, color="#222222", lw=1.6)

ax.set_xticks(tick_hours)
ax.set_xticklabels(tick_labels, fontsize=14)
ax.xaxis.set_minor_locator(MultipleLocator(6))
ax.set_yticks([-10, -5, 0, 5])
ax.set_yticklabels(["\u221210", "\u22125", "0", "5"], fontsize=14)
ax.yaxis.set_minor_locator(MultipleLocator(1))
ax.tick_params(axis="x", which="major", direction="inout", length=12, width=1, top=True, pad=1)
ax.tick_params(axis="x", which="minor", direction="inout", length=8, width=1, top=True)
ax.tick_params(axis="y", which="both", direction="in", length=5, width=1, right=True)
for s in ax.spines.values():
    s.set_linewidth(1.5)
    s.set_color("#222222")

ax.set_xlabel("Time after 17.05.2020 00:00:00 UT", fontsize=13)
ax.xaxis.set_label_coords(0.5, -0.058)
ax.set_ylabel(r"nm s$^{-2}$", fontsize=13)
ax.yaxis.set_label_coords(-0.043, 0.5)

fig.text(0.071, 0.975, "Passband: 1000\u2009s\u221212hr; tides are removed", fontsize=15,
         va="center", ha="left")

# legend: names with coloured underlines along the top of the frame
leg_x0 = [71, 165, 246, 371, 494, 619, 741, 868]
leg_x1 = [154, 233, 357, 482, 605, 729, 855, 918]
for lab, c, x0, x1 in zip(labels, colors, leg_x0, leg_x1):
    fig.text(x0 / 1000, 1 - 49 / 758, lab, fontsize=14.5, va="center", ha="left")
    fig.add_artist(Line2D([x0 / 1000 - 0.001, x1 / 1000], [1 - 61 / 758] * 2, color=c, lw=1.8))

fig.savefig("out.png", dpi=100)
